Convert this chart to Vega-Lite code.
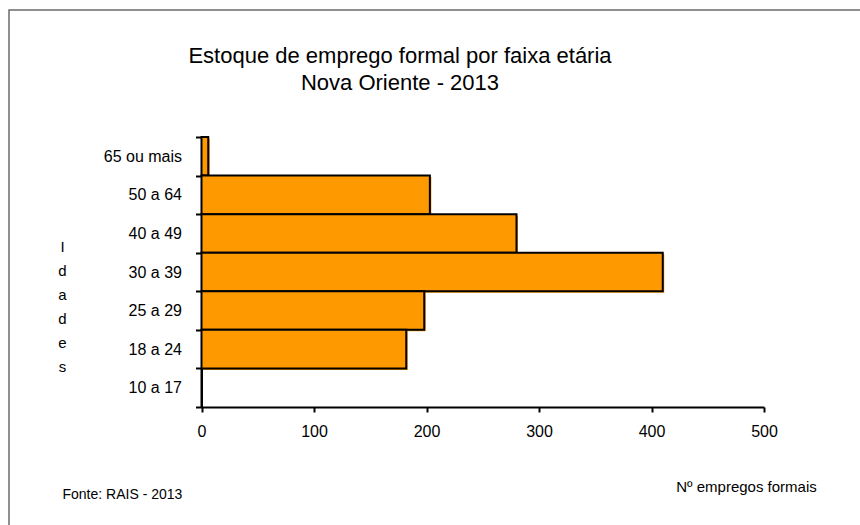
{
  "$schema": "https://vega.github.io/schema/vega-lite/v6.json",
  "width": 860,
  "height": 525,
  "autosize": "none",
  "padding": {"left": 9, "top": 10, "right": 0, "bottom": 0},
  "background": "white",
  "config": {
    "font": "Liberation Sans",
    "view": {"stroke": "#6b6b6b", "strokeWidth": 1.5}
  },
  "title": {
    "text": ["Estoque de emprego formal por faixa etária", "Nova Oriente - 2013"],
    "fontSize": 22,
    "fontWeight": "normal",
    "color": "black",
    "font": "Liberation Sans",
    "anchor": "middle",
    "frame": "group",
    "lineHeight": 27,
    "offset": -93,
    "dx": -39
  },
  "data": {
    "values": [
      {"faixa": "65 ou mais", "empregos": 6},
      {"faixa": "50 a 64", "empregos": 203},
      {"faixa": "40 a 49", "empregos": 280},
      {"faixa": "30 a 39", "empregos": 410},
      {"faixa": "25 a 29", "empregos": 198},
      {"faixa": "18 a 24", "empregos": 182},
      {"faixa": "10 a 17", "empregos": 0}
    ]
  },
  "resolve": {"axis": {"y": "independent"}},
  "layer": [
    {
      "mark": {"type": "bar", "fill": "#FF9900", "xOffset": 1.5, "yOffset": 1.5},
      "encoding": {
        "y": {
          "field": "faixa", "type": "nominal",
          "sort": ["65 ou mais", "50 a 64", "40 a 49", "30 a 39", "25 a 29", "18 a 24", "10 a 17"],
          "scale": {"range": [127, 397], "paddingInner": 0, "paddingOuter": 0},
          "axis": {
            "orient": "right",
            "title": "Fonte: RAIS - 2013",
            "titleFontSize": 14,
            "titleFontWeight": "normal",
            "titleColor": "black",
            "titleAngle": 0,
            "titleAlign": "left",
            "titleBaseline": "alphabetic",
            "titleX": -807,
            "titleY": 488,
            "domain": false,
            "ticks": false,
            "labels": false,
            "grid": false
          }
        },
        "x": {
          "field": "empregos", "type": "quantitative",
          "scale": {"domain": [0, 500], "range": [192.5, 755], "nice": false},
          "axis": {
            "orient": "bottom",
            "offset": -128,
            "values": [0, 100, 200, 300, 400, 500],
            "domainColor": "black",
            "domainWidth": 2,
            "tickColor": "black",
            "tickWidth": 2,
            "tickSize": 5,
            "labelPadding": 11,
            "labelFontSize": 16,
            "labelColor": "black",
            "labelFlush": false,
            "grid": false,
            "title": "Nº empregos formais",
            "titleFontSize": 15,
            "titleFontWeight": "normal",
            "titleColor": "black",
            "titleAlign": "center",
            "titleBaseline": "alphabetic",
            "titleX": 737,
            "titleY": 84
          }
        }
      }
    },
    {
      "mark": {"type": "bar", "fill": "#FF9900", "stroke": "black", "strokeWidth": 2},
      "encoding": {
        "y": {
          "field": "faixa", "type": "nominal",
          "sort": ["65 ou mais", "50 a 64", "40 a 49", "30 a 39", "25 a 29", "18 a 24", "10 a 17"],
          "axis": {
            "orient": "left",
            "offset": -192.5,
            "tickBand": "extent",
            "domainColor": "black",
            "domainWidth": 2,
            "tickColor": "black",
            "tickWidth": 2,
            "tickSize": 6,
            "labelPadding": 14,
            "labelFontSize": 16,
            "labelColor": "black",
            "grid": false,
            "title": ["I", "d", "a", "d", "e", "s"],
            "titleFontSize": 15,
            "titleFontWeight": "normal",
            "titleColor": "black",
            "titleAngle": 0,
            "titleAlign": "center",
            "titleBaseline": "alphabetic",
            "titleLineHeight": 24,
            "titleX": -139.5,
            "titleY": 241
          }
        },
        "x": {
          "field": "empregos", "type": "quantitative",
          "axis": {
            "orient": "bottom",
            "offset": -128,
            "values": [0, 100, 200, 300, 400, 500],
            "domainColor": "black",
            "domainWidth": 2,
            "tickColor": "black",
            "tickWidth": 2,
            "tickSize": 5,
            "labelPadding": 11,
            "labelFontSize": 16,
            "labelColor": "black",
            "labelFlush": false,
            "grid": false,
            "title": "Nº empregos formais",
            "titleFontSize": 15,
            "titleFontWeight": "normal",
            "titleColor": "black",
            "titleAlign": "center",
            "titleBaseline": "alphabetic",
            "titleX": 737,
            "titleY": 84
          }
        }
      }
    }
  ]
}
